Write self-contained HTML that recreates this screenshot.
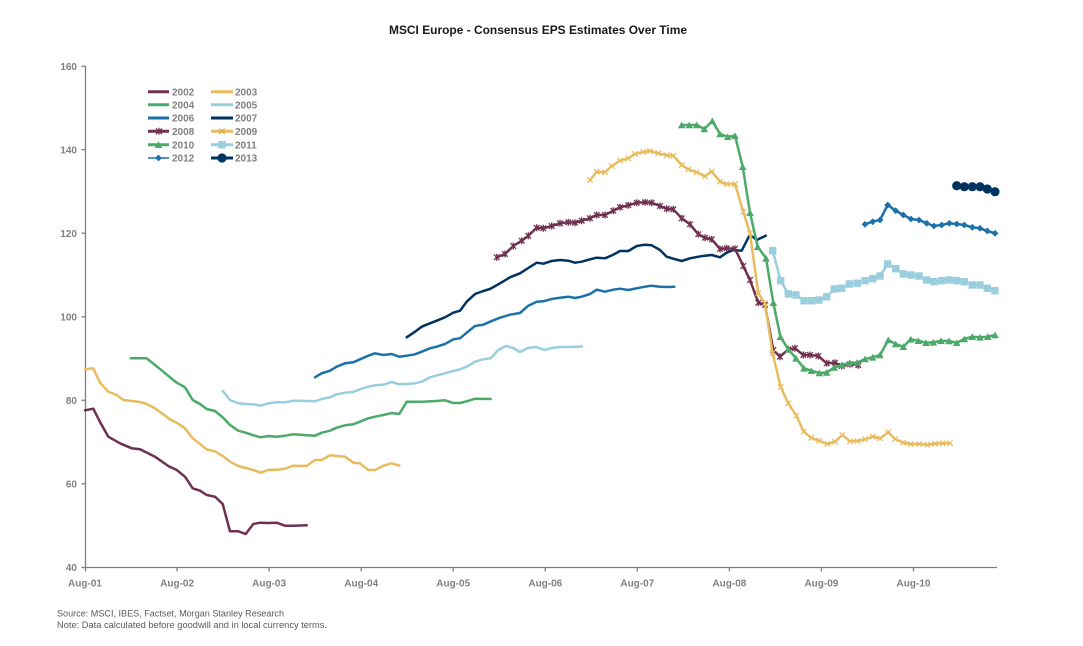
<!DOCTYPE html>
<html>
<head>
<meta charset="utf-8">
<style>
  html, body { margin: 0; padding: 0; background: #ffffff; }
  body { width: 1083px; height: 646px; overflow: hidden; }
  svg { display: block; }
  text { font-family: "Liberation Sans", Arial, sans-serif; }
  .tick { font-size: 10px; font-weight: bold; fill: #808080; }
  .leg { font-size: 10px; font-weight: bold; fill: #7f7f7f; }
  .foot { font-size: 9px; fill: #595959; }
  .ser { fill: none; stroke-width: 2.5; stroke-linejoin: round; stroke-linecap: round; }
</style>
</head>
<body>
<svg width="1083" height="646" viewBox="0 0 1083 646" xmlns="http://www.w3.org/2000/svg">
  <defs>
    <marker id="m8" markerUnits="userSpaceOnUse" markerWidth="10" markerHeight="10" refX="5" refY="5" overflow="visible">
      <path d="M2.2,2.2 L7.8,7.8 M7.8,2.2 L2.2,7.8 M5,1.5 L5,8.5" stroke="#70304F" stroke-width="1.3" fill="none"/>
    </marker>
    <marker id="m9" markerUnits="userSpaceOnUse" markerWidth="10" markerHeight="10" refX="5" refY="5" overflow="visible">
      <path d="M2.3,2.3 L7.7,7.7 M7.7,2.3 L2.3,7.7" stroke="#E8BC5E" stroke-width="1.3" fill="none"/>
    </marker>
    <marker id="m10" markerUnits="userSpaceOnUse" markerWidth="10" markerHeight="10" refX="5" refY="5" overflow="visible">
      <polygon points="1.2,8.3 5,1.5 8.8,8.3" fill="#4BAA68"/>
    </marker>
    <marker id="m11" markerUnits="userSpaceOnUse" markerWidth="10" markerHeight="10" refX="5" refY="5" overflow="visible">
      <rect x="1.3" y="1.3" width="7.4" height="7.4" fill="#98CEDD"/>
    </marker>
    <marker id="m12" markerUnits="userSpaceOnUse" markerWidth="10" markerHeight="10" refX="5" refY="5" overflow="visible">
      <polygon points="5,1.6 8.4,5 5,8.4 1.6,5" fill="#1B72A8"/>
    </marker>
    <marker id="m13" markerUnits="userSpaceOnUse" markerWidth="12" markerHeight="12" refX="6" refY="6" overflow="visible">
      <circle cx="6" cy="6" r="4.6" fill="#00335F"/>
    </marker>
  </defs>

  <!-- Title -->
  <text x="538" y="34" text-anchor="middle" font-size="11.5" font-weight="bold" fill="#1a1a1a" textLength="298" lengthAdjust="spacingAndGlyphs">MSCI Europe - Consensus EPS Estimates Over Time</text>

  <!-- Axes -->
  <g stroke="#7f7f7f" stroke-width="1.3" fill="none">
    <line x1="85.5" y1="66" x2="85.5" y2="568"/>
    <line x1="85" y1="567.5" x2="997" y2="567.5"/>
    <line x1="81.5" y1="66.2" x2="85.5" y2="66.2"/>
    <line x1="81.5" y1="149.7" x2="85.5" y2="149.7"/>
    <line x1="81.5" y1="233.2" x2="85.5" y2="233.2"/>
    <line x1="81.5" y1="316.8" x2="85.5" y2="316.8"/>
    <line x1="81.5" y1="400.3" x2="85.5" y2="400.3"/>
    <line x1="81.5" y1="483.8" x2="85.5" y2="483.8"/>
    <line x1="81.5" y1="567.5" x2="85.5" y2="567.5"/>
    <line x1="85.5" y1="567.5" x2="85.5" y2="571.5"/>
    <line x1="177.1" y1="567.5" x2="177.1" y2="571.5"/>
    <line x1="269.1" y1="567.5" x2="269.1" y2="571.5"/>
    <line x1="361.2" y1="567.5" x2="361.2" y2="571.5"/>
    <line x1="453.2" y1="567.5" x2="453.2" y2="571.5"/>
    <line x1="545.3" y1="567.5" x2="545.3" y2="571.5"/>
    <line x1="637.3" y1="567.5" x2="637.3" y2="571.5"/>
    <line x1="729.4" y1="567.5" x2="729.4" y2="571.5"/>
    <line x1="821.4" y1="567.5" x2="821.4" y2="571.5"/>
    <line x1="913.5" y1="567.5" x2="913.5" y2="571.5"/>
  </g>

  <!-- Y labels -->
  <g class="tick" text-anchor="end">
    <text x="77" y="70">160</text>
    <text x="77" y="153.3">140</text>
    <text x="77" y="236.8">120</text>
    <text x="77" y="320.3">100</text>
    <text x="77" y="403.8">80</text>
    <text x="77" y="487.3">60</text>
    <text x="77" y="571">40</text>
  </g>

  <!-- X labels -->
  <g class="tick" text-anchor="middle">
    <text x="85" y="586.5">Aug-01</text>
    <text x="177.1" y="586.5">Aug-02</text>
    <text x="269.1" y="586.5">Aug-03</text>
    <text x="361.2" y="586.5">Aug-04</text>
    <text x="453.2" y="586.5">Aug-05</text>
    <text x="545.3" y="586.5">Aug-06</text>
    <text x="637.3" y="586.5">Aug-07</text>
    <text x="729.4" y="586.5">Aug-08</text>
    <text x="821.4" y="586.5">Aug-09</text>
    <text x="913.5" y="586.5">Aug-10</text>
  </g>

  <!-- Series -->
  <polyline class="ser" stroke="#70304F" points="85,410.3 93.3,408.7 100,422 108.3,436.7 120,443.3 131.7,448.3 140,449.3 155,456.7 168.3,466 176.7,470 185,476.7 192.7,488.3 200,490.7 206.7,495 215,496.7 222.7,504 230,531.3 238.3,531.3 245.7,534 253.3,524 260,522.7 268.3,523 276.7,522.7 285,525.7 293.3,525.7 306.7,525.3"/>

  <polyline class="ser" stroke="#E8BC5E" points="85,369.3 93.3,368.3 100,382.7 108.3,391.7 116.7,395 123.3,400 131.7,401 140,402 146.7,404 155,408.3 161.7,413.3 170,419.3 176.7,422.7 185,428.3 192.7,438.3 200,444 206.7,449.3 215,451.3 222.7,456 230,461.7 238.3,466 245.7,468 253.3,470 260.7,472.7 268.3,470 276.7,469.7 285,468.7 293.3,465.7 306.7,466 315,460 321.7,460 330,455.3 345,456.7 353.3,462.7 360,463.3 368.3,470 375,470 383.3,465.7 391.7,463.3 399.3,465.7"/>

  <polyline class="ser" stroke="#4BAA68" points="130.7,358.3 146.7,358.3 155,365 163.3,371.7 170,377.3 176.7,382.7 185,387.3 192.7,400 200,404 206.7,409 215,411 222.7,417.3 230,425 238.3,430.7 245.7,432.7 253.3,435.3 260.7,437.3 268.3,436 276.7,436.7 285,435.7 293.3,434.3 306.7,435.3 315,435.7 321.7,432.7 330,430.7 336.7,427.7 345,425.3 353.3,424.3 360,421.7 368.3,418.3 375,416.7 383.3,415 391.7,413 399.3,414 406.7,401.7 421.7,401.7 436.7,401 445,400.3 453.3,403 460,403 466.7,401.3 475,398.7 490.7,399"/>

  <polyline class="ser" stroke="#98CEDD" points="222.7,391 230,400 238.3,403.3 245.7,404 253.3,404.3 260.7,405.7 268.3,403.3 276.7,402.3 285,402.3 293.3,400.7 306.7,401 315,401.3 321.7,399 330,397.3 336.7,394.3 345,392.7 353.3,392 360,389.3 368.3,386.7 375,385.3 383.3,384.7 391.7,382 399.3,384.3 406.7,384 415,383.3 421.7,381.7 430,377.3 445,373.3 453.3,371 460,369.3 466.7,366.7 475,361.7 483.3,359.3 490.7,358.3 498.3,350 506,346 513.3,348 520,352 528,348 536,347 544,350 552,348 560,347 570,347 582,346.5"/>

  <polyline class="ser" stroke="#1B72A8" points="315,377.3 321.7,373.3 330,370.7 336.7,366.7 345,363.3 353.3,362.3 360,359.3 368.3,355.7 375,353.3 383.3,355 391.7,354 399.3,356.7 406.7,355.7 415,354.3 421.7,351.7 430,348.3 436.7,346.7 445,344 453.3,339.3 460,338.3 466.7,332.7 475,326 483.3,324.7 490,321.7 500,317.7 510,314.7 520,313 528.3,305.7 536.7,301.7 543.3,301.3 551.7,299 560,297.7 568.3,296.7 575,298 581.7,296.7 590,294 596.7,289.7 605,291.7 613.3,289.7 620,288.7 628.3,290 636.7,288.3 645,286.7 651.7,285.7 660,286.7 666.7,287 674.3,286.7"/>

  <polyline class="ser" stroke="#00335F" points="406.7,337.3 415,331.7 421.7,326.7 430,323.3 436.7,320.7 445,317.3 453.3,312.7 460,310.7 466.7,301.7 475,294 483.3,291 490,289 500,283.3 510,277.3 520,273.3 528.3,268 536.7,262.7 543.3,263.7 551.7,261 560,260 568.3,260.7 575,262.7 581.7,261.7 590,259.3 596.7,257.7 605,258.3 613.3,254.7 620,251 628.3,251 636.7,246 645,244.7 651.7,245.3 660,250 666.7,256.7 673.3,258.7 681.7,261 690,258.3 698.3,256.7 705,255.7 711.7,255 720,257.3 726.7,252.7 733.3,250 741.7,250.7 750,234.3 756.7,240 765.7,235.7"/>

  <polyline class="ser" stroke="#70304F" marker-start="url(#m8)" marker-mid="url(#m8)" marker-end="url(#m8)" points="496.7,257.3 505,254 513.3,246 521.7,240.7 528.3,235.7 536.7,227.7 543.3,228.3 551.7,226 560,223.3 568.3,222.3 575,222.7 581.7,220.7 590,218.3 596.7,215 605,215 613.3,210.7 620,207.3 628.3,205.3 636.7,202.7 645,202.3 651.7,202.7 660,206 666.7,208.7 673.3,209.3 681.7,218.3 690,224.3 698.3,234.3 705,237.7 711.7,239.3 720,249 726.7,248.3 735,248.7 743.3,266 750,280 758.3,302.7 765,305 773.3,350 780,356.7 788.3,349.3 795,348.3 803.3,355 810,355 818.3,356 826.7,363.3 835,362.7 841.7,366 850,364.3 858.3,365.3"/>

  <polyline class="ser" stroke="#E8BC5E" marker-start="url(#m9)" marker-mid="url(#m9)" marker-end="url(#m9)" points="590,180 596.7,171.7 605,172.3 611.7,166 620,160.7 628.3,158.3 635,154 643.3,152 650,151 658.3,153.3 666.7,155.3 673.3,155.7 681.7,165 688.3,169.3 696.7,172.3 705,176.3 711.7,171.3 720,181.7 726.7,184 735,184 743.3,211.7 750,233.3 758.3,293.3 765,303.3 772.5,353 780.7,387 788.3,403.3 796.3,415.5 803.7,431.7 811.3,437.8 819,440.7 827.3,444 835,441.7 842.3,435 850,441.3 857.3,441 865,439.3 872.7,436.7 880,438.3 888.3,432.3 895,439 903.3,442.7 910.7,444 919,444 927.3,444.7 935,443.7 942.7,443.3 950,443.3"/>

  <polyline class="ser" stroke="#4BAA68" marker-start="url(#m10)" marker-mid="url(#m10)" marker-end="url(#m10)" points="681.7,125 689.3,125 696.7,125 704.3,129 712.3,121 720,134 727.7,136.7 735,135.7 742.7,166.7 750,212.7 757.7,246.7 766,258.3 773.3,302.7 780.4,336.7 788.3,349.3 796,358.3 804,368.3 811.3,370.7 819.3,373 826.7,372.5 834.2,367.5 842,365 849.7,362.7 857.2,362.5 865,359 872.7,357.3 880,355 888.3,340 895.7,344 903.3,346.7 910.7,339.3 918.3,340.7 926,342.7 933.3,342.3 941,340.7 949,341 956.7,342.7 964.3,339 972.3,336.7 980,337.3 987.7,336.7 995,335"/>

  <polyline class="ser" stroke="#98CEDD" marker-start="url(#m11)" marker-mid="url(#m11)" marker-end="url(#m11)" points="772.7,250.7 780.7,280.7 788.3,294 796,295 804,300.7 811.7,300.7 819,300 826.7,296.7 834.3,289 841.7,288.3 849.3,284 857.3,283.3 865,280.7 872.7,278.7 880,276 887.7,264 895.7,268.7 903.3,274 911,275 919,276 926.7,280 934,281.7 941.7,280.7 949.3,280 956.7,280.7 964.3,281.7 972.3,285 980,285 987.3,288.3 995,290.7"/>

  <polyline class="ser" stroke="#1B72A8" stroke-width="1.5" marker-start="url(#m12)" marker-mid="url(#m12)" marker-end="url(#m12)" points="865,224.3 872.7,221.7 880,220 887.7,205 895.7,210.7 903.3,215 911,219 919,220 926.7,223.3 934,226 941.7,225 949.3,223.3 956.7,224 964.3,225 972.3,227.3 980,228.3 987.3,231 995,233.3"/>

  <polyline class="ser" stroke="#00335F" marker-start="url(#m13)" marker-mid="url(#m13)" marker-end="url(#m13)" points="956.7,185.7 964.3,186.7 972.3,186.7 980,186.7 987.3,189 995,191.7"/>

  <!-- Legend -->
  <g stroke-width="3" stroke-linecap="butt">
    <line x1="148" y1="91.7" x2="169" y2="91.7" stroke="#70304F"/>
    <line x1="211" y1="91.7" x2="233" y2="91.7" stroke="#E8BC5E"/>
    <line x1="148" y1="104.7" x2="169" y2="104.7" stroke="#4BAA68"/>
    <line x1="211" y1="104.7" x2="233" y2="104.7" stroke="#98CEDD"/>
    <line x1="148" y1="118" x2="169" y2="118" stroke="#1B72A8"/>
    <line x1="211" y1="118" x2="233" y2="118" stroke="#00335F"/>
    <line x1="148" y1="131.3" x2="169" y2="131.3" stroke="#70304F"/>
    <line x1="211" y1="131.3" x2="233" y2="131.3" stroke="#E8BC5E"/>
    <line x1="148" y1="144.7" x2="169" y2="144.7" stroke="#4BAA68"/>
    <line x1="211" y1="144.7" x2="233" y2="144.7" stroke="#98CEDD"/>
    <line x1="148" y1="158" x2="169" y2="158" stroke="#1B72A8" stroke-width="1.5"/>
    <line x1="211" y1="158" x2="233" y2="158" stroke="#00335F"/>
  </g>
  <path d="M156,128.5 L162,134.1 M162,128.5 L156,134.1 M159,127.8 L159,134.8" stroke="#70304F" stroke-width="1.3" fill="none"/>
  <path d="M219.3,128.6 L224.7,134 M224.7,128.6 L219.3,134" stroke="#d9a94a" stroke-width="1.3" fill="none"/>
  <polygon points="154.7,148 158.5,141.2 162.3,148" fill="#4BAA68"/>
  <rect x="218.3" y="141" width="7.4" height="7.4" fill="#98CEDD"/>
  <polygon points="158.5,154.6 161.9,158 158.5,161.4 155.1,158" fill="#1B72A8"/>
  <circle cx="222" cy="158" r="4.6" fill="#00335F"/>

  <g class="leg">
    <text x="172" y="95.3">2002</text>
    <text x="235" y="95.3">2003</text>
    <text x="172" y="108.3">2004</text>
    <text x="235" y="108.3">2005</text>
    <text x="172" y="121.6">2006</text>
    <text x="235" y="121.6">2007</text>
    <text x="172" y="134.9">2008</text>
    <text x="235" y="134.9">2009</text>
    <text x="172" y="148.3">2010</text>
    <text x="235" y="148.3">2011</text>
    <text x="172" y="161.6">2012</text>
    <text x="235" y="161.6">2013</text>
  </g>

  <!-- Footer -->
  <text class="foot" x="57" y="616.5" textLength="227" lengthAdjust="spacingAndGlyphs">Source: MSCI, IBES, Factset, Morgan Stanley Research</text>
  <text class="foot" x="57" y="628" textLength="270" lengthAdjust="spacingAndGlyphs">Note: Data calculated before goodwill and in local currency terms.</text>
</svg>
</body>
</html>
